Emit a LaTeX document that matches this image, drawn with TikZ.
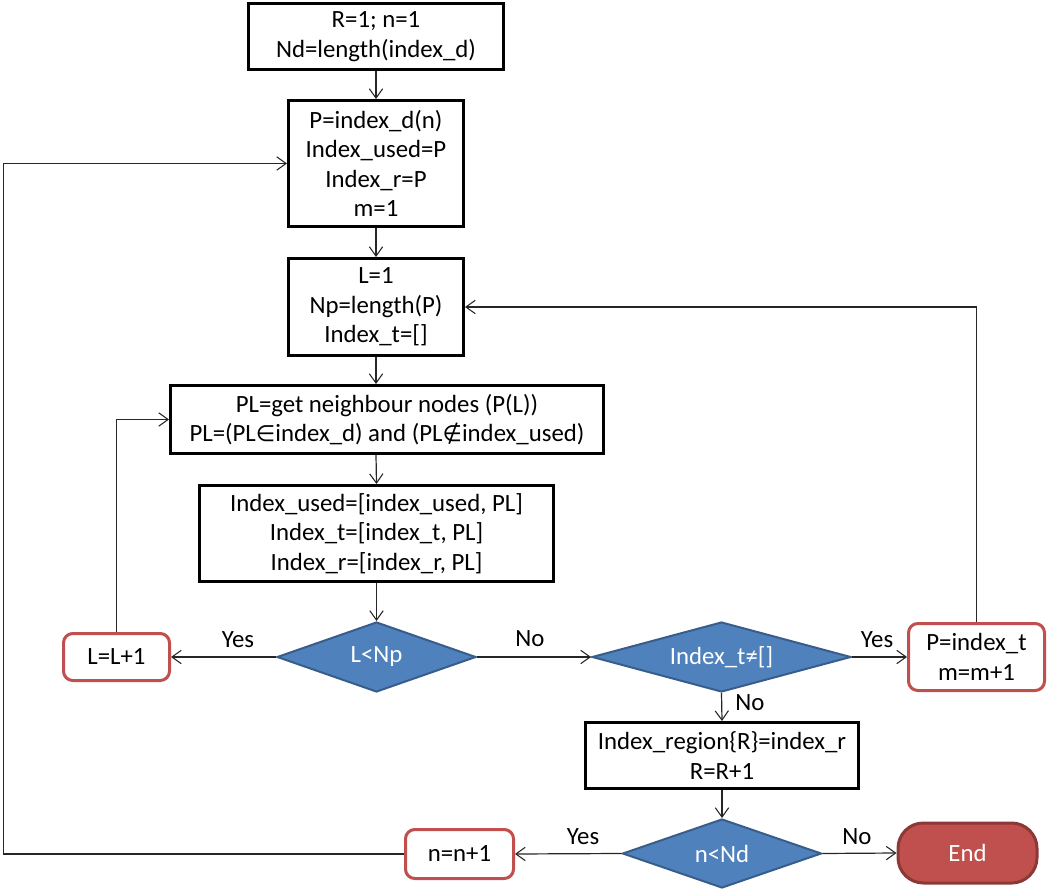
\documentclass[tikz,border=0pt]{standalone}
\usepackage{fontspec}
\setmainfont{Carlito}
\newfontfamily\symf[Scale=0.9]{DejaVu Sans}
\usetikzlibrary{shapes.geometric,arrows.meta}
\definecolor{dblue}{HTML}{4F81BD}
\definecolor{dblueb}{HTML}{385D8A}
\definecolor{rred}{HTML}{C0504D}
\definecolor{rredb}{HTML}{8C3836}
\tikzset{
  every node/.style={font=\fontsize{18.6}{22.2}\selectfont, inner sep=0pt, align=center},
  procbox/.style={draw=black, line width=2.25pt, rectangle, fill=white},
  redbox/.style={draw=rred, line width=2.25pt, rectangle, rounded corners=7pt, fill=white},
  decision/.style={diamond, draw=dblueb, line width=1.5pt, fill=dblue, text=white, aspect=3},
  endbox/.style={draw=rredb, line width=2.25pt, rectangle, rounded corners=19pt, fill=rred, text=white},
  arr/.style={draw=black!85, line width=0.9pt, -{Straight Barb[length=7pt,width=10pt,line width=0.8pt]}},
  lbl/.style={text=black}
}
\begin{document}
\begin{tikzpicture}[x=0.75pt,y=-0.75pt]
\useasboundingbox (0,0) rectangle (1050,891);
\node[procbox, minimum width=191.25pt, minimum height=49.5pt] (b1) at (376,36.5) {R=1; n=1\\Nd=length(index\_d)};
\node[procbox, minimum width=131.25pt, minimum height=94.5pt] (b2) at (376,163.5) {P=index\_d(n)\\Index\_used=P\\Index\_r=P\\m=1};
\node[procbox, minimum width=131.25pt, minimum height=72.75pt] (b3) at (376,307) {L=1\\Np=length(P)\\Index\_t=[]};
\node[procbox, minimum width=324.75pt, minimum height=51pt] (b4) at (387,419.5) {PL=get neighbour nodes (P(L))\\PL=(PL{\symf ∈}index\_d) and (PL{\symf ∉}index\_used)};
\node[procbox, minimum width=265.5pt, minimum height=72pt] (b5) at (376.5,533.5) {Index\_used=[index\_used, PL]\\Index\_t=[index\_t, PL]\\Index\_r=[index\_r, PL]};
\node[decision, minimum width=149.25pt, minimum height=52.5pt] (d1) at (376.5,657) {L<Np};
\node[decision, minimum width=194.25pt, minimum height=52.5pt] (d2) at (721.5,657) {Index\_t≠[]};
\node[redbox, minimum width=102pt, minimum height=50.25pt] (pb) at (976.5,657) {P=index\_t\\m=m+1};
\node[redbox, minimum width=79.5pt, minimum height=35.25pt] (lb) at (116.5,657) {L=L+1};
\node[procbox, minimum width=204.75pt, minimum height=49.5pt] (rb) at (722,755.5) {Index\_region\{R\}=index\_r\\R=R+1};
\node[decision, minimum width=149.25pt, minimum height=51.75pt] (d3) at (722,853.5) {n<Nd};
\node[redbox, minimum width=81pt, minimum height=36.75pt] (nb) at (459.5,854) {n=n+1};
\node[endbox, minimum width=104.25pt, minimum height=45pt] (eb) at (967.5,853) {End};
\coordinate (lft) at (3.5,500);
% connectors
\draw[arr] (b1.south) -- (b2.north);
\draw[arr] (b2.south) -- (b3.north);
\draw[arr] (b3.south) -- (b3.south |- b4.north);
\draw[arr] (b3.south |- b4.south) -- (b5.north);
\draw[arr] (b5.south) -- (d1.north);
\draw[arr] (d1.west) -- (lb.east);
\draw[arr] (d1.east) -- (d2.west);
\draw[arr] (d2.east) -- (pb.west);
\draw[arr] (d2.south) -- (rb.north);
\draw[arr] (rb.south) -- (d3.north);
\draw[arr] (d3.west) -- (nb.east);
\draw[arr] (d3.east) -- (eb.west);
\draw[arr] (lb.north) |- (b4.west);
\draw[arr] (pb.north) |- (b3.east);
\draw[arr] (nb.west) -| (lft) |- (b2.west);
% labels
\node[lbl] (y1) at (238,640) {Yes};
\node[lbl] (n1) at (530,639) {No};
\node[lbl] (y2) at (877,640) {Yes};
\node[lbl] (n2) at (750,703) {No};
\node[lbl] (y3) at (583,837) {Yes};
\node[lbl] (n3) at (857,837) {No};
\end{tikzpicture}
\end{document}
